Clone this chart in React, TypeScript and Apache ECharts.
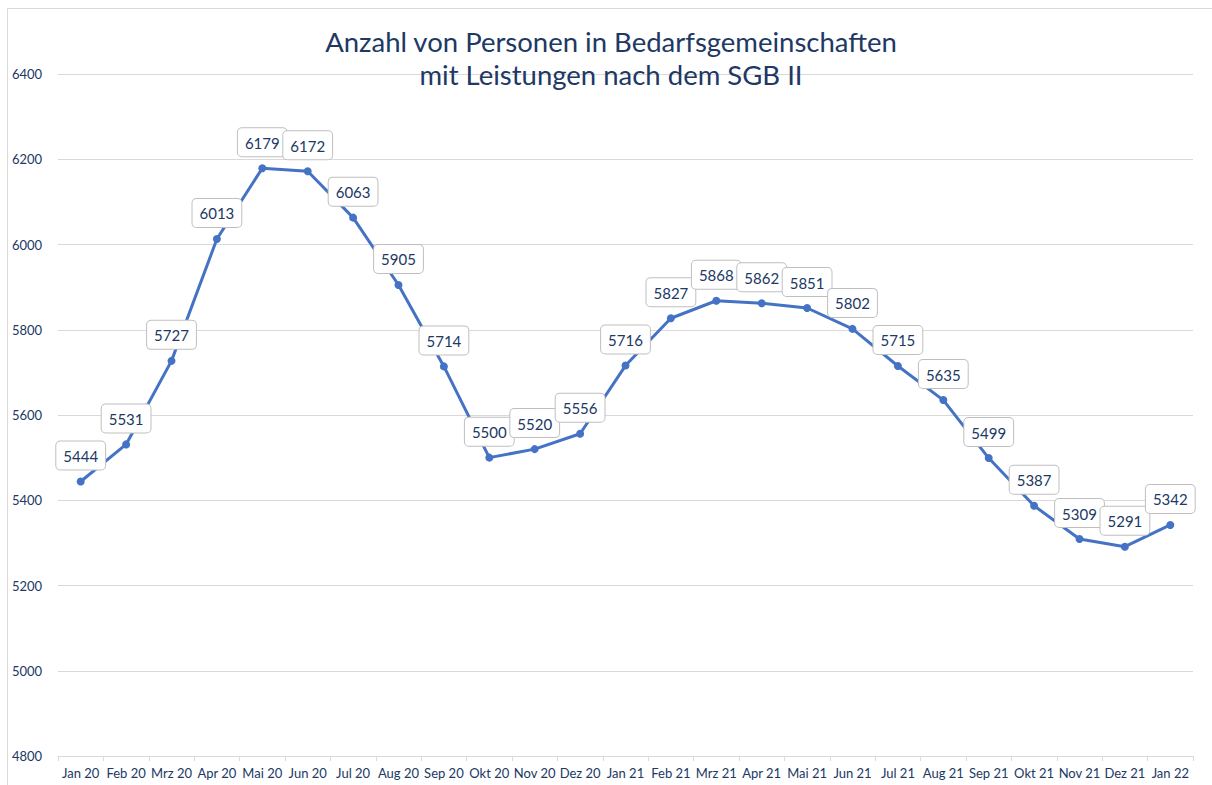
import React, { useEffect, useRef } from "react";
import * as echarts from "echarts";

const categories = [
  "Jan 20", "Feb 20", "Mrz 20", "Apr 20", "Mai 20", "Jun 20", "Jul 20", "Aug 20", "Sep 20",
  "Okt 20", "Nov 20", "Dez 20", "Jan 21", "Feb 21", "Mrz 21", "Apr 21", "Mai 21", "Jun 21",
  "Jul 21", "Aug 21", "Sep 21", "Okt 21", "Nov 21", "Dez 21", "Jan 22",
];
const values = [
  5444, 5531, 5727, 6013, 6179, 6172, 6063, 5905, 5714, 5500, 5520, 5556, 5716, 5827, 5868,
  5862, 5851, 5802, 5715, 5635, 5499, 5387, 5309, 5291, 5342,
];
const titleLines = ["Anzahl von Personen in Bedarfsgemeinschaften", "mit Leistungen nach dem SGB II"];

const NAVY = "#203864";
const FONT = "Lato, 'Open Sans', sans-serif";

export default function App() {
  const ref = useRef<HTMLDivElement>(null);
  useEffect(() => {
    if (!ref.current) return;
    const chart = echarts.init(ref.current, undefined, { renderer: "svg" });
    chart.setOption({
      animation: false,
      backgroundColor: "#ffffff",
      textStyle: { fontFamily: FONT },
      title: {
        text: titleLines.join("\n"),
        left: 606,
        textAlign: "center",
        top: 20,
        textStyle: { color: NAVY, fontSize: 27.5, fontWeight: "normal", fontFamily: FONT, lineHeight: 33 },
      },
      graphic: [
        {
          type: "rect",
          shape: { x: 7.5, y: 8.5, width: 1300, height: 900 },
          style: { fill: "none", stroke: "#D9D9D9", lineWidth: 1 },
          silent: true,
        },
      ],
      grid: { left: 58, right: 19, top: 74, bottom: 29 },
      xAxis: {
        type: "category",
        data: categories,
        boundaryGap: true,
        axisLine: { lineStyle: { color: "#D9D9D9", width: 1 } },
        axisTick: { show: true, length: 5, lineStyle: { color: "#D9D9D9" } },
        axisLabel: { color: NAVY, fontSize: 13, margin: 10, interval: 0, fontFamily: FONT },
        splitLine: { show: false },
      },
      yAxis: {
        type: "value",
        min: 4800,
        max: 6400,
        interval: 200,
        axisLine: { show: false },
        axisTick: { show: false },
        axisLabel: {
          color: NAVY,
          fontSize: 13,
          align: "left",
          margin: 46,
          fontFamily: FONT,
          formatter: (v: number) => String(v),
        },
        splitLine: { lineStyle: { color: "#D9D9D9", width: 1 } },
      },
      series: [
        {
          type: "line",
          data: values,
          symbol: "circle",
          symbolSize: 8,
          lineStyle: { color: "#4472C4", width: 3 },
          itemStyle: { color: "#4472C4" },
          label: {
            show: true,
            position: "top",
            distance: 8,
            color: NAVY,
            fontSize: 15,
            fontFamily: FONT,
            backgroundColor: "#ffffff",
            borderColor: "#BFBFBF",
            borderWidth: 1,
            borderRadius: 4,
            padding: [7, 7, 6, 7],
          },
        },
      ],
    });
    return () => chart.dispose();
  }, []);
  return (
    <div
      ref={ref}
      style={{ position: "fixed", left: 0, top: 0, width: 1212, height: 785 }}
    />
  );
}
